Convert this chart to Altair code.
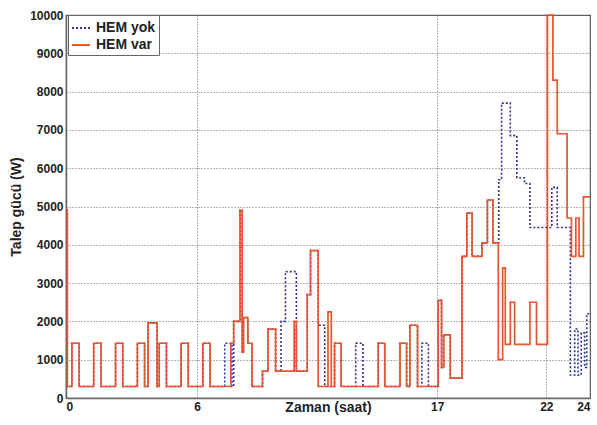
import altair as alt
import pandas as pd

# HEM var (red, solid) step points: time (hour) -> power (W) holding until next time
var_t = [0, 0.06, 0.27, 0.6, 1.27, 1.6, 2.27, 2.6, 3.27, 3.6, 3.76, 4.17, 4.27, 4.6,
         5.27, 5.6, 6.27, 6.6, 7.55, 7.68, 7.97, 8.07, 8.13, 8.33, 8.52, 9.0, 9.25,
         9.6, 10.45, 10.55, 11.05, 11.2, 11.55, 12.0, 12.15, 12.3, 12.6, 14.3, 14.6,
         15.3, 15.6, 15.75, 16.1, 17.05, 17.2, 17.3, 17.6, 18.14, 18.36, 18.6, 19.05,
         19.3, 19.55, 19.8, 20.0, 20.12, 20.35, 20.55, 21.25, 21.55, 22.05, 22.3, 22.5,
         22.95, 23.15, 23.35, 23.5, 23.7, 24]
var_w = [4900, 300, 1430, 300, 1430, 300, 1430, 300, 1430, 300, 1960, 300, 1430, 300,
         1430, 300, 1430, 300, 1430, 2000, 4900, 1200, 2100, 1430, 300, 700, 1800,
         700, 2000, 700, 2700, 3850, 300, 2250, 300, 1430, 300, 1430, 300,
         1430, 300, 1900, 300, 2550, 800, 1650, 520, 3700, 4830, 3700, 4050,
         5170, 4050, 1000, 3400, 1400, 2500, 1400, 2500, 1400, 10000, 8300, 6900,
         4700, 3700, 4700, 3700, 5250, 5250]

# HEM yok (blue, dotted)
yok_t = [0, 0.06, 0.27, 0.6, 1.27, 1.6, 2.27, 2.6, 3.27, 3.6, 3.76, 4.17, 4.27, 4.6,
         5.27, 5.6, 6.27, 6.6, 7.27, 7.6, 7.68, 7.97, 8.07, 8.13, 8.33, 8.52, 9.0, 9.25,
         9.6, 9.85, 10.05, 10.55, 11.05, 11.2, 11.55, 11.85, 12.3, 12.6, 13.27, 13.6,
         14.3, 14.6, 15.3, 15.6, 15.75, 16.1, 16.3, 16.6, 17.05, 17.2, 17.3, 17.6,
         18.14, 18.36, 18.6, 19.05, 19.3, 19.55, 19.82, 19.95, 20.35, 20.65, 21.0,
         21.25, 22.25, 22.5, 23.1, 23.3, 23.45, 23.6, 23.75, 23.85, 24]
yok_w = [4900, 300, 1430, 300, 1430, 300, 1430, 300, 1430, 300, 1960, 300, 1430, 300,
         1430, 300, 1430, 300, 1430, 300, 2000, 4900, 1200, 2100, 1430, 300, 700, 1800,
         700, 2000, 3300, 700, 2700, 3850, 1900, 300, 1430, 300, 1430, 300,
         1430, 300, 1430, 300, 1900, 300, 1430, 300, 2550, 800, 1650, 520,
         3700, 4830, 3700, 4050, 5170, 4050, 5700, 7700, 6850, 5750, 5600,
         4450, 5500, 4450, 600, 1800, 600, 1700, 800, 2200, 2200]

x_ticks = [0, 6, 17, 22, 24]
y_ticks = list(range(0, 10001, 1000))
series = ["HEM yok", "HEM var"]
colors = ["#2e3192", "#e8542e"]

df_yok = pd.DataFrame({"t": yok_t, "w": yok_w, "s": series[0]})
df_var = pd.DataFrame({"t": var_t, "w": var_w, "s": series[1]})

x = alt.X("t:Q", scale=alt.Scale(domain=[0, 24], nice=False),
          axis=alt.Axis(values=x_ticks, title="Zaman (saat)", format="d",
                        labelPadding=3, titlePadding=-12, ticks=False))
y = alt.Y("w:Q", scale=alt.Scale(domain=[0, 10000], nice=False),
          axis=alt.Axis(values=y_ticks, title="Talep gücü (W)", format="d",
                        labelPadding=3, titlePadding=6, ticks=False))
color = alt.Color("s:N", scale=alt.Scale(domain=series, range=colors),
                  legend=alt.Legend(title=None, orient="none", legendX=2, legendY=0))
dash = alt.StrokeDash("s:N", scale=alt.Scale(domain=series, range=[[2, 2], [1, 0]]),
                      legend=alt.Legend(title=None, orient="none", legendX=2, legendY=0))

blue = alt.Chart(df_yok).mark_line(interpolate="step-after", strokeWidth=1.6).encode(
    x=x, y=y, color=color, strokeDash=dash)
red = alt.Chart(df_var).mark_line(interpolate="step-after", strokeWidth=1.7).encode(
    x=x, y=y, color=color, strokeDash=dash)

chart = alt.layer(blue, red).properties(
    width=524, height=383,
    autosize=alt.AutoSizeParams(type="none"),
    padding={"left": 66, "top": 15, "right": 7, "bottom": 27},
).configure_view(stroke="#666", strokeWidth=1.2).configure_axis(
    labelFont="Liberation Sans", labelFontWeight="bold", labelFontSize=12, labelColor="#222",
    titleFont="Liberation Sans", titleFontWeight="bold", titleFontSize=14, titleColor="#222",
    gridColor="#444", gridDash=[1, 2], gridOpacity=0.8, domainColor="#666", domainWidth=1.5,
).configure_legend(
    labelFont="Liberation Sans", labelFontWeight="bold", labelFontSize=14, labelColor="#222",
    symbolType="stroke", symbolSize=320, symbolStrokeWidth=2,
    fillColor="white", strokeColor="#666", padding=3, rowPadding=0, labelOffset=5,
    cornerRadius=0,
)

chart.save("out.html", embed_options={"renderer": "svg", "actions": False})
